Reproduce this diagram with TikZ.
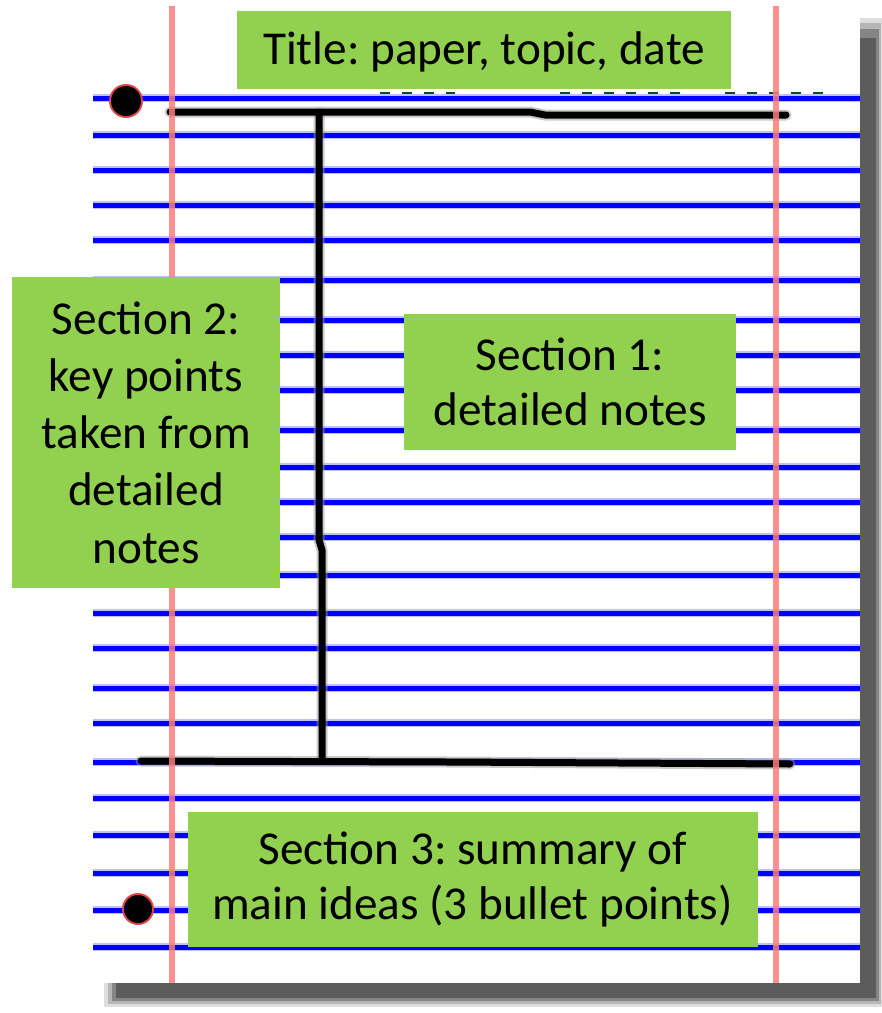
\documentclass[tikz,border=0pt]{standalone}
\usepackage{fontspec}
\setmainfont{Carlito}
\frenchspacing
\definecolor{boxgreen}{RGB}{146,208,80}
\definecolor{ruleblue}{RGB}{0,0,255}
\definecolor{marginred}{RGB}{250,125,125}
\definecolor{holered}{RGB}{225,70,70}
\definecolor{shadowgray}{RGB}{92,92,92}
\definecolor{inkgreen}{RGB}{10,80,30}
\begin{document}
\begin{tikzpicture}[x=1pt,y=-1pt,
  greenbox/.style={fill=boxgreen, inner sep=0pt, align=center, text=black,
                   font=\fontsize{47.2}{55}\selectfont},
  rule/.style={ruleblue, line width=5pt},
  rulehalo/.style={ruleblue!25, line width=8.5pt},
  margin/.style={marginred, line width=6pt, opacity=0.85},
  ink/.style={black, line width=7pt, line cap=round, line join=round},
  inkhalo/.style={black!40, line width=11pt, line cap=round, line join=round, opacity=0.5},
  hole/.style={fill=black},
  holering/.style={fill=holered},
  scribble/.style={inkgreen, line width=4pt, dash pattern=on 10pt off 12pt},
]
\useasboundingbox (0,0) rectangle (882,1013);
\fill[white] (0,0) rectangle (882,1013);
% drop shadow
\fill[shadowgray!20] (104,18) rectangle (882,1007);
\fill[shadowgray!45] (108,23) rectangle (881,1004);
\fill[shadowgray!75] (112,29) rectangle (879,1001);
\fill[shadowgray] (116,38) rectangle (876,998);
% paper
\fill[white] (93,5) rectangle (860,983);
% faint green scribbles under the title
\draw[scribble] (380,94) -- (455,94);
\draw[scribble] (560,94) -- (690,94);
\draw[scribble] (725,94) -- (830,94);
% ruled lines
\foreach \y in {98,135,170,205,240,280,320,355,390,430,467,502,537,575,613,648,688,723,762,798,835,873,910,947}{
  \draw[rulehalo] (93,\y) -- (860,\y);
  \draw[rule] (93,\y) -- (860,\y);
}
% hand-drawn T
\draw[inkhalo] (170,112) -- (530,112) -- (545,115) -- (786,115);
\draw[inkhalo] (319,113) -- (319,540) -- (322,550) -- (322,760);
\draw[inkhalo] (141,761) -- (450,762) -- (790,764);
\draw[ink] (170,112) -- (530,112) -- (545,115) -- (786,115);
\draw[ink] (319,113) -- (319,540) -- (322,550) -- (322,760);
\draw[ink] (141,761) -- (450,762) -- (790,764);
% margin lines
\draw[margin] (172,6) -- (172,983);
\draw[margin] (776,6) -- (776,983);
% punched holes
\fill[holering] (126,101) circle (17);
\fill[hole] (126,101) circle (15);
\fill[holering] (138,909) circle (16);
\fill[hole] (138,909) circle (14);
% label boxes
\node[greenbox, minimum width=494pt, minimum height=78pt, text height=29.8pt, text depth=0pt]
  (title) at (484,50) {Title: paper, topic, date};
\node[greenbox, minimum width=268pt, minimum height=311pt, font=\fontsize{47.2}{57.3}\selectfont]
  (sec2) at (146,432.5) {Section 2:\\key points\\taken from\\detailed\\notes};
\node[greenbox, minimum width=332pt, minimum height=136pt]
  (sec1) at (570,382) {Section 1:\\detailed notes};
\node[greenbox, minimum width=570pt, minimum height=135pt]
  (sec3) at (472.5,879.5) {Section 3: summary of\\main ideas (3 bullet points)};
\end{tikzpicture}
\end{document}
